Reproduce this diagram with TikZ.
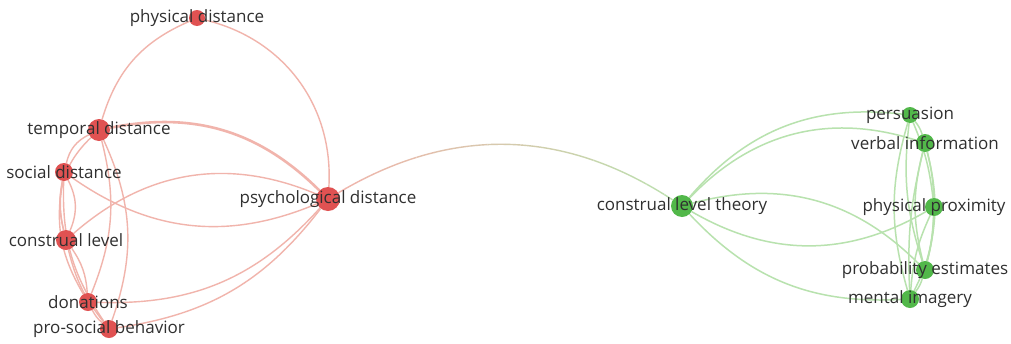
\documentclass[tikz,border=0pt]{standalone}
\usepackage{fontspec}
\setmainfont{Open Sans}
\usetikzlibrary{backgrounds}
\definecolor{rednode}{RGB}{224,82,82}
\definecolor{rededge}{RGB}{241,180,172}
\definecolor{greennode}{RGB}{82,184,74}
\definecolor{greenedge}{RGB}{184,226,174}
\definecolor{labelcol}{RGB}{48,48,48}
\tikzset{
 rn/.style={circle, fill=rednode, inner sep=0pt, minimum size=#1},
 gn/.style={circle, fill=greennode, inner sep=0pt, minimum size=#1},
 lab/.style={font=\fontsize{17}{18}\selectfont, text=labelcol, inner sep=0pt},
 re/.style={draw=rededge, line width=1.4pt},
 ge/.style={draw=greenedge, line width=1.5pt},
}
\begin{document}
\begin{tikzpicture}[x=1pt,y=-1pt]
\useasboundingbox (0,0) rectangle (1011,343);
% nodes
\node[rn=16] (phd) at (197,18) {};
\node[rn=22] (tem) at (99,130) {};
\node[rn=18] (soc) at (64,172) {};
\node[rn=20] (cl) at (66,240) {};
\node[rn=18] (don) at (88,302) {};
\node[rn=18] (pro) at (109,329) {};
\node[rn=24] (psy) at (328,199) {};
\node[gn=22] (clt) at (682,206) {};
\node[gn=16] (per) at (910,115) {};
\node[gn=18] (ver) at (925,143) {};
\node[gn=18] (prx) at (934,207) {};
\node[gn=18] (prb) at (925,270) {};
\node[gn=18] (men) at (910,299) {};
\begin{scope}[on background layer]
\fill[white] (0,0) rectangle (1011,343);
% red cluster
\draw[re] (tem) to[bend left=25] (phd);
\draw[re] (phd) to[bend left=40] (psy);
\draw[re, line width=2.6pt] (tem) to[bend left=28] (psy);
\draw[re] (soc) to[bend right=29] (psy);
\draw[re] (cl) to[bend left=32] (psy);
\draw[re] (don) to[bend right=25] (psy);
\draw[re] (pro) to[bend right=22] (psy);
\draw[re] (tem) to[bend right=25] (soc);
\draw[re] (tem) to[bend right=30] (cl);
\draw[re] (tem) to[bend left=18] (don);
\draw[re] (tem) to[bend left=22] (pro);
\draw[re] (soc) to[bend left=25] (cl);
\draw[re] (soc) to[bend right=12] (cl);
\draw[re] (soc) to[bend right=20] (don);
\draw[re] (soc) to[bend right=18] (pro);
\draw[re] (cl) to[bend left=15] (don);
\draw[re] (cl) to[bend right=12] (pro);
\draw[re] (don) to[bend right=10] (pro);
% bridge with gradient
\foreach \i in {0,...,19} {
  \pgfmathtruncatemacro\p{100-5*\i}
  \begin{scope}
    \clip (328+\i*17.7,100) rectangle ++(17.8,150);
    \draw[line width=1.4pt, draw=rededge!\p!greenedge] (psy) to[bend left=32] (clt);
  \end{scope}
}
% green cluster
\draw[ge] (clt) to[bend left=28] (per);
\draw[ge] (clt) to[bend left=32] (ver);
\draw[ge] (clt) to[bend right=30] (prx);
\draw[ge] (clt) to[bend left=30] (prb);
\draw[ge] (clt) to[bend right=25] (men);
\draw[ge] (per) to[bend left=10] (ver);
\draw[ge] (per) to[bend left=8] (prx);
\draw[ge] (per) to[bend right=12] (prb);
\draw[ge] (per) to[bend right=16] (men);
\draw[ge] (ver) to[bend left=6] (prx);
\draw[ge] (ver) to[bend left=14] (prb);
\draw[ge] (ver) to[bend right=8] (men);
\draw[ge] (ver) to[bend right=14] (prb);
\draw[ge] (prx) to[bend left=6] (prb);
\draw[ge] (prx) to[bend right=10] (men);
\draw[ge] (prx) to[bend left=12] (men);
\draw[ge] (prb) to[bend left=10] (men);
\end{scope}
% labels
\node[lab] (l-phd) at (phd) {physical distance};
\node[lab] (l-tem) at (tem) {temporal distance};
\node[lab] (l-soc) at (soc) {social distance};
\node[lab] (l-cl) at (cl) {construal level};
\node[lab] (l-don) at (don) {donations};
\node[lab] (l-pro) at (pro) {pro-social behavior};
\node[lab] (l-psy) at (psy) {psychological distance};
\node[lab] (l-clt) at (clt) {construal level theory};
\node[lab] (l-per) at (per) {persuasion};
\node[lab] (l-ver) at (ver) {verbal information};
\node[lab] (l-prx) at (prx) {physical proximity};
\node[lab] (l-prb) at (prb) {probability estimates};
\node[lab] (l-men) at (men) {mental imagery};
\end{tikzpicture}
\end{document}
